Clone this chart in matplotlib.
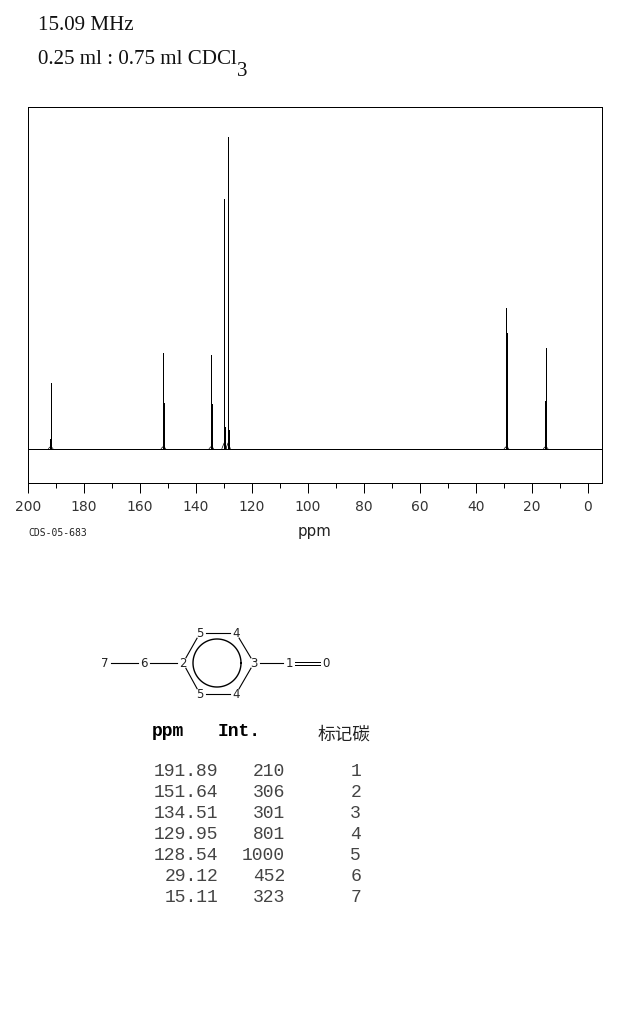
import numpy as np
import matplotlib
matplotlib.use("Agg")
import matplotlib.pyplot as plt

peak_ppm = [191.89, 151.64, 134.51, 129.95, 128.54, 29.12, 15.11]
peak_int = [210, 306, 301, 801, 1000, 452, 323]
shoulder_ppm = [192.25, 151.28, 134.15, 129.59, 128.18, 28.76, 15.47]
shoulder_int = [30, 146, 143, 68, 60, 372, 152]
foot_int = [7, 7, 7, 18, 18, 7, 7]

ppm_ticks = [200, 180, 160, 140, 120, 100, 80, 60, 40, 20, 0]
ppm_minor = [190, 170, 150, 130, 110, 90, 70, 50, 30, 10]

# table
tab_ppm = ["191.89", "151.64", "134.51", "129.95", "128.54", "29.12", "15.11"]
tab_int = ["210", "306", "301", "801", "1000", "452", "323"]
tab_c = ["1", "2", "3", "4", "5", "6", "7"]

# structure: label, x, y in pixels
atoms = [("7", 105, 664), ("6", 144, 664), ("2", 183, 664), ("3", 254, 664),
         ("1", 289, 664), ("0", 326, 664), ("5", 200, 634), ("4", 236, 634),
         ("5", 200, 695), ("4", 236, 695)]
bonds = [(0, 1), (1, 2), (2, 6), (6, 7), (7, 3), (3, 9), (9, 8), (8, 2), (3, 4)]
double_bond = (4, 5)

W, H = 638, 1020
fig = plt.figure(figsize=(W / 100, H / 100), dpi=100, facecolor="white")

# spectrum axes, placed in pixels
left, right, top, bottom = 28, 602, 107.5, 483.5
ax = fig.add_axes([left / W, 1 - bottom / H, (right - left) / W, (bottom - top) / H])
ax.set_xlim(200, -5.0)
ax.set_ylim(-109, 1098)
lw = 0.72
ax.axhline(0, color="k", lw=lw, antialiased=False)
ax.vlines(peak_ppm, 0, peak_int, color="k", lw=lw, antialiased=False)
ax.vlines(shoulder_ppm, 0, shoulder_int, color="k", lw=lw, antialiased=False)
for p, f in zip(peak_ppm, foot_int):
    ax.plot([p - 0.8, p, p + 0.8], [0, f, 0], color="k", lw=0.5)

for s in ax.spines.values():
    s.set_linewidth(lw)
ax.set_yticks([])
ax.set_xticks(ppm_ticks)
ax.set_xticks(ppm_minor, minor=True)
ax.tick_params(axis="x", which="major", length=7.2, width=lw, pad=5, labelsize=10, labelcolor="#333333")
ax.tick_params(axis="x", which="minor", length=3.6, width=lw)

# overlay for everything else, in pixel coordinates
ov = fig.add_axes([0, 0, 1, 1])
ov.set_xlim(0, W)
ov.set_ylim(H, 0)
ov.axis("off")
ov.patch.set_alpha(0)

serif = "Liberation Serif"
ov.text(38, 30, "15.09 MHz", family=serif, fontsize=15.1, color="#111111", va="baseline")
ov.text(38, 64, "0.25 ml : 0.75 ml CDCl", family=serif, fontsize=15.1, color="#111111", va="baseline")
ov.text(237, 76, "3", family=serif, fontsize=15.1, color="#111111", va="baseline")

ov.text(28, 533, "CDS-05-683", family="DejaVu Sans Mono", fontsize=7, color="#222222", va="center")
ov.text(315, 532, "ppm", family="DejaVu Sans", fontsize=10.8, color="#222222", va="center", ha="center")

# structure
gap = 6
for i, j in bonds:
    x0, y0 = atoms[i][1:]
    x1, y1 = atoms[j][1:]
    d = np.hypot(x1 - x0, y1 - y0)
    ux, uy = (x1 - x0) / d * gap, (y1 - y0) / d * gap
    ov.plot([x0 + ux, x1 - ux], [y0 + uy, y1 - uy], color="k", lw=0.8)
x0, y0 = atoms[double_bond[0]][1:]
x1, y1 = atoms[double_bond[1]][1:]
for dy in (-1.5, 1.5):
    ov.plot([x0 + gap, x1 - gap], [y0 + dy, y1 + dy], color="k", lw=lw, antialiased=False)
ang = np.linspace(0, 2 * np.pi, 120)
ov.plot(217 + 24 * np.cos(ang), 664 + 24 * np.sin(ang), color="k", lw=1.0)
for lab, x, y in atoms:
    ov.text(x, y, lab, family="DejaVu Sans", fontsize=8.5, color="#222222", ha="center", va="center")

# table
mono = "Liberation Mono"
ov.text(152, 732, "ppm", family=mono, fontsize=13, fontweight="bold", va="center")
ov.text(218, 732, "Int.", family=mono, fontsize=13, fontweight="bold", va="center")
ov.text(318, 735, "标记碳", family=["Noto Sans CJK SC", "DejaVu Sans"], fontsize=12.7, color="#222222", va="center")
for i in range(len(tab_ppm)):
    y = 772 + 21 * i
    ov.text(218, y, tab_ppm[i], family=mono, fontsize=13, color="#444444", ha="right", va="center")
    ov.text(285, y, tab_int[i], family=mono, fontsize=13, color="#444444", ha="right", va="center")
    ov.text(361, y, tab_c[i], family=mono, fontsize=13, color="#444444", ha="right", va="center")

fig.savefig("out.png", dpi=100)
